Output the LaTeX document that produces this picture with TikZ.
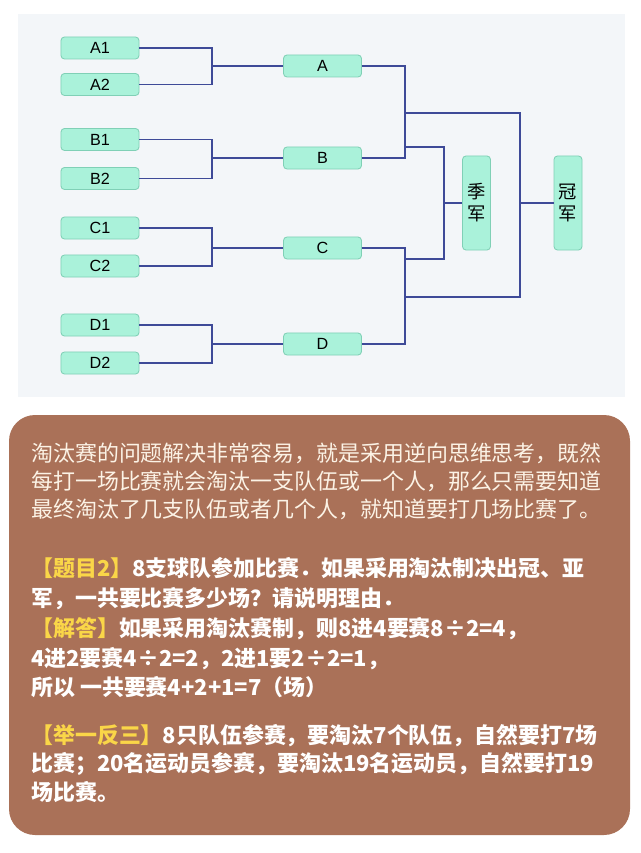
\documentclass[tikz,border=0pt]{standalone}
\usepackage{fontspec}
\setmainfont{Liberation Sans}
\newfontfamily\cjk{Noto Sans CJK SC}
\usetikzlibrary{positioning}
\usepackage{xcolor}
\definecolor{mintfill}{RGB}{170,242,218}
\definecolor{mintdraw}{RGB}{128,208,182}
\definecolor{wireblue}{RGB}{62,74,152}
\definecolor{panelgray}{RGB}{243,246,249}
\definecolor{cardbrown}{RGB}{170,113,88}
\definecolor{creamtext}{RGB}{252,243,230}
\definecolor{tagyellow}{RGB}{250,214,72}

\begin{document}
\begin{tikzpicture}[x=0.025cm,y=-0.025cm]
  \tikzset{
    team/.style={
      draw=mintdraw,
      fill=mintfill,
      line width=0.6pt,
      rounded corners=2.5pt,
      minimum width=1.95cm,
      minimum height=0.55cm,
      inner sep=0pt,
      font=\fontsize{11.5}{13}\selectfont
    },
    medal/.style={
      draw=mintdraw,
      fill=mintfill,
      line width=0.6pt,
      rounded corners=2.5pt,
      minimum width=0.7cm,
      minimum height=2.35cm,
      inner sep=0pt,
      align=center,
      font=\cjk\fontsize{13}{15.6}\selectfont
    },
    wire/.style={
      draw=wireblue,
      line width=1pt
    },
    story/.style={
      anchor=base west,
      inner sep=0pt,
      text=creamtext,
      font=\cjk\fontsize{15.6}{18}\selectfont
    },
    task/.style={
      anchor=base west,
      inner sep=0pt,
      text=white,
      font=\cjk\bfseries\fontsize{15.6}{18}\selectfont
    }
  }
  \useasboundingbox (0,0) rectangle (640,853);

  % backdrop of the bracket
  \fill[panelgray] (18,14) rectangle (625,397);

  % Draw the first round teams
    \node[team] at (100,48) (A1) {A1};
    \node[team] at (100,84.5) (A2) {A2};
    \node[team] at (100,139.5) (B1) {B1};
    \node[team] at (100,178.5) (B2) {B2};
    \node[team] at (100,228) (C1) {C1};
    \node[team] at (100,266) (C2) {C2};
    \node[team] at (100,325) (D1) {D1};
    \node[team] at (100,363) (D2) {D2};

  % Winners of the first round
    \node[team] at (322.5,66) (A) {A};
    \node[team] at (322.5,158) (B) {B};
    \node[team] at (322.5,248) (C) {C};
    \node[team] at (322.5,344) (D) {D};

  % Third place and champion
    \node[medal] at (476.5,203) (third) {季\\军};
    \node[medal] at (568,203) (champ) {冠\\军};

  % First round brackets
    \coordinate (jA) at (212,66);
    \draw[wire] (A1.east) -| (jA) |- (A2.east);
    \draw[wire] (jA) -- (A.west);
    \coordinate (jB) at (212,158);
    \draw[wire] (B1.east) -| (jB) |- (B2.east);
    \draw[wire] (jB) -- (B.west);
    \coordinate (jC) at (212,248);
    \draw[wire] (C1.east) -| (jC) |- (C2.east);
    \draw[wire] (jC) -- (C.west);
    \coordinate (jD) at (212,344);
    \draw[wire] (D1.east) -| (jD) |- (D2.east);
    \draw[wire] (jD) -- (D.west);

  % Semi final brackets
    \coordinate (jAB) at (405,113);
    \coordinate (jCD) at (405,297);
    \draw[wire] (A.east) -| (jAB) |- (B.east);
    \draw[wire] (C.east) -| (jCD) |- (D.east);

  % Final
    \coordinate (jFin) at (520,203);
    \draw[wire] (jAB) -| (jFin) |- (jCD);
    \draw[wire] (jFin) -- (champ.west);

  % Match for third place
    \coordinate (lAB) at (405,147);
    \coordinate (lCD) at (405,259);
    \coordinate (jThird) at (444,203);
    \draw[wire] (lAB) -| (jThird) |- (lCD);
    \draw[wire] (jThird) -- (third.west);

  % Explanation card
  \fill[cardbrown, rounded corners=0.65cm] (9,415) rectangle (630,835);

    \node[story] at (31,461.5) (story1) {淘汰赛的问题解决非常容易，就是采用逆向思维思考，既然};
    \node[story] at (31,489.5) (story2) {每打一场比赛就会淘汰一支队伍或一个人，那么只需要知道};
    \node[story] at (31,517.5) (story3) {最终淘汰了几支队伍或者几个人，就知道要打几场比赛了。};

    \node[task] at (31,576) (task1) {\textcolor{tagyellow}{【题目2】}8支球队参加比赛．如果采用淘汰制决出冠、亚};
    \node[task] at (31,606) (task2) {军，一共要比赛多少场？请说明理由．};
    \node[task] at (31,636) (task3) {\textcolor{tagyellow}{【解答】}如果采用淘汰赛制，则8进4要赛8÷2=4，};
    \node[task] at (31,666) (task4) {4进2要赛4÷2=2，2进1要2÷2=1，};
    \node[task] at (31,695) (task5) {所以 一共要赛4+2+1=7（场）};

    \node[task] at (31,743) (more1) {\textcolor{tagyellow}{【举一反三】}8只队伍参赛，要淘汰7个队伍，自然要打7场};
    \node[task] at (31,771) (more2) {比赛；20名运动员参赛，要淘汰19名运动员，自然要打19};
    \node[task] at (31,800) (more3) {场比赛。};
\end{tikzpicture}
\end{document}
